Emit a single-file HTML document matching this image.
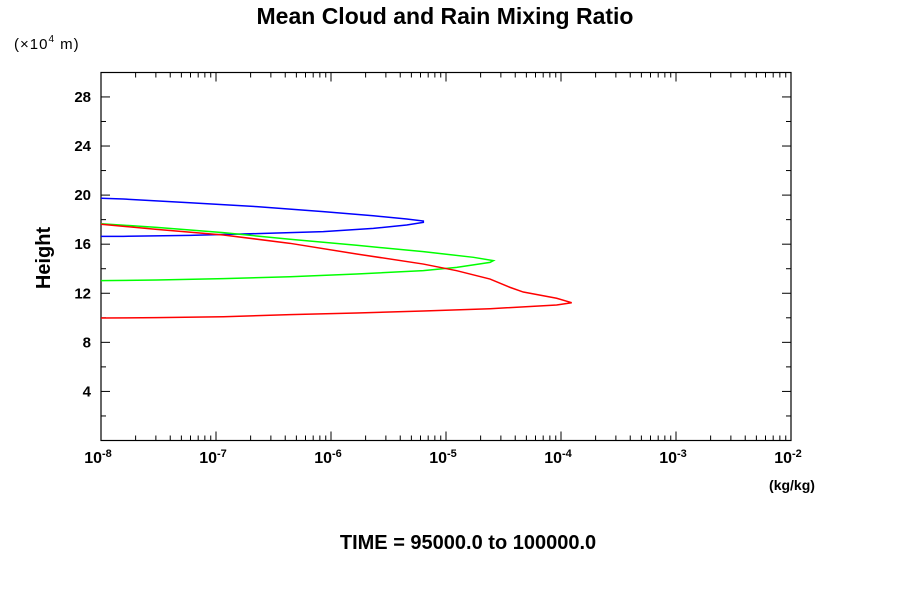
<!DOCTYPE html>
<html><head><meta charset="utf-8"><style>
body{margin:0;background:#fff;}
svg text{font-family:"Liberation Sans",sans-serif;}
</style></head><body>
<svg id="chart" width="900" height="600" xmlns="http://www.w3.org/2000/svg">
<rect width="900" height="600" fill="#fff"/>
<text x="445" y="24" font-size="23" font-weight="bold" text-anchor="middle">Mean Cloud and Rain Mixing Ratio</text>
<text x="14" y="49" font-size="15" letter-spacing="1">(×10<tspan font-size="10" dy="-7">4</tspan><tspan dy="7"> m)</tspan></text>
<text transform="translate(50,258) rotate(-90)" font-size="20" font-weight="bold" text-anchor="middle">Height</text>
<text x="792" y="490" font-size="14" font-weight="bold" text-anchor="middle">(kg/kg)</text>
<text x="468" y="549" font-size="20" font-weight="bold" text-anchor="middle">TIME = 95000.0 to 100000.0</text>
<g id="axes"></g>
<g id="series"></g>
</svg>
<script>
const xExponents=[-8,-7,-6,-5,-4,-3,-2];
const yTicks=[4,8,12,16,20,24,28];
const blueX=[-8.0,-7.806,-7.226,-6.646,-6.067,-5.632,-5.342,-5.197,-5.197,-5.342,-5.632,-6.067,-6.646,-7.226,-7.806,-8.0];
const blueH=[19.74,19.68,19.38,19.06,18.65,18.32,18.05,17.89,17.78,17.56,17.29,17.02,16.86,16.72,16.64,16.64];
const greenX=[-8.0,-7.516,-6.936,-6.357,-5.777,-5.197,-4.762,-4.588,-4.617,-4.907,-5.197,-5.777,-6.357,-6.936,-7.516,-8.0];
const greenH=[17.67,17.37,16.94,16.40,15.91,15.39,14.93,14.66,14.52,14.11,13.84,13.57,13.35,13.19,13.08,13.03];
const redX=[-8.0,-7.516,-6.936,-6.357,-5.777,-5.197,-4.907,-4.617,-4.443,-4.328,-4.038,-3.907,-4.038,-4.617,-5.197,-5.777,-6.357,-6.936,-7.516,-8.0];
const redH=[17.62,17.21,16.75,16.07,15.20,14.38,13.84,13.16,12.48,12.10,11.59,11.23,11.04,10.74,10.55,10.39,10.26,10.09,10.01,9.98];

const L=101,R=791,B=440.5,T=72.5,NS="http://www.w3.org/2000/svg";
const xs=e=>L+(e+8)*115;
const ys=h=>B-h*12.27;
const ax=document.getElementById('axes'),sg=document.getElementById('series');
function mk(p,tag,a){const el=document.createElementNS(NS,tag);for(const k in a)el.setAttribute(k,a[k]);p.appendChild(el);return el;}
const frame=mk(ax,'rect',{x:L,y:T,width:R-L,height:B-T,fill:'none',stroke:'#000','stroke-width':1.2});


xExponents.forEach((e,i)=>{
  const x=xs(e);
  const t=mk(ax,'line',{x1:x,x2:x,y1:B,y2:B-9,stroke:'#000'});
  
  
  mk(ax,'line',{x1:x,x2:x,y1:T,y2:T+9,stroke:'#000'});
  const lb=mk(ax,'text',{x:x-3,y:463,'font-size':16,'font-weight':'bold','text-anchor':'middle'});
  
  
  lb.innerHTML='10<tspan font-size="11" dy="-6">'+e+'</tspan>';
  if(i<xExponents.length-1){for(let m=2;m<=9;m++){const xm=xs(e+Math.log10(m));
    mk(ax,'line',{x1:xm,x2:xm,y1:B,y2:B-5,stroke:'#000'});mk(ax,'line',{x1:xm,x2:xm,y1:T,y2:T+5,stroke:'#000'});}}
});
for(let h=2;h<30;h+=4){const y=ys(h);mk(ax,'line',{x1:L,x2:L+5,y1:y,y2:y,stroke:'#000'});mk(ax,'line',{x1:R,x2:R-5,y1:y,y2:y,stroke:'#000'});}
yTicks.forEach(h=>{const y=ys(h);
  const t=mk(ax,'line',{x1:L,x2:L+9,y1:y,y2:y,stroke:'#000'});
  
  
  mk(ax,'line',{x1:R,x2:R-9,y1:y,y2:y,stroke:'#000'});
  const lb=mk(ax,'text',{x:91,y:y+5,'font-size':15,'font-weight':'bold','text-anchor':'end'});
  
  
  lb.textContent=h;
});
function line(X,H,c,name){const p=mk(sg,'polyline',{points:X.map((v,i)=>xs(v)+','+ys(H[i])).join(' '),fill:'none',stroke:c,'stroke-width':1.5});
  
  }
line(blueX,blueH,'#0000ff','blue-series');
line(greenX,greenH,'#00ff00','green-series');
line(redX,redH,'#ff0000','red-series');
</script>
</body></html>
